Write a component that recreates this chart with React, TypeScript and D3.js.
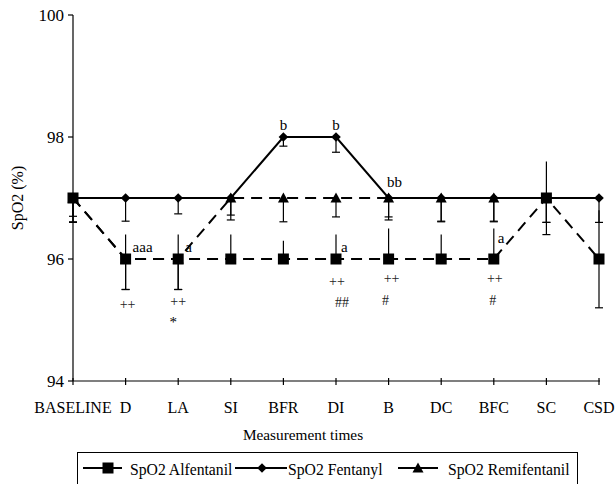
import React from 'react';
import * as d3 from 'd3';

const categories = ['BASELINE', 'D', 'LA', 'SI', 'BFR', 'DI', 'B', 'DC', 'BFC', 'SC', 'CSD'];
const alfentanil: (number | null)[] = [97, 96, 96, 96, 96, 96, 96, 96, 96, 97, 96];
const fentanyl: (number | null)[] = [97, 97, 97, 97, 98, 98, 97, 97, 97, 97, 97];
const remifentanil: (number | null)[] = [97, 96, 96, 97, 97, 97, 97, 97, 97, 97, null];
const alfUpper = [0, 0.4, 0.4, 0.4, 0.3, 0.4, 0.5, 0.4, 0.5, 0.6, 0.8];
const alfLower = [0.4, 0.5, 0.5, 0, 0, 0, 0, 0, 0, 0.6, 0.8];
const fenLower = [0.3, 0.38, 0.26, 0.28, 0.15, 0.25, 0.31, 0.38, 0.38, 0.4, 0.4];
const remLower = [0.39, 0.5, 0.5, 0.36, 0.39, 0.31, 0.36, 0.39, 0.39, 0.4, 0];
const yTicks = [94, 96, 98, 100];

type Ann = { cat: string; text: string; value: number; dx: number; anchor: 'start' | 'middle'; small?: boolean };
const annotations: Ann[] = [
  { cat: 'D', text: 'aaa', value: 96.11, dx: 7, anchor: 'start' },
  { cat: 'LA', text: 'a', value: 96.11, dx: 7, anchor: 'start' },
  { cat: 'DI', text: 'a', value: 96.11, dx: 5, anchor: 'start' },
  { cat: 'BFC', text: 'a', value: 96.26, dx: 4, anchor: 'start' },
  { cat: 'BFR', text: 'b', value: 98.11, dx: 0, anchor: 'middle' },
  { cat: 'DI', text: 'b', value: 98.11, dx: 0, anchor: 'middle' },
  { cat: 'B', text: 'bb', value: 97.18, dx: 6, anchor: 'middle' },
  { cat: 'D', text: '++', value: 95.18, dx: 2, anchor: 'middle', small: true },
  { cat: 'LA', text: '++', value: 95.23, dx: 0, anchor: 'middle', small: true },
  { cat: 'LA', text: '*', value: 94.88, dx: -5, anchor: 'middle' },
  { cat: 'DI', text: '++', value: 95.56, dx: 1, anchor: 'middle', small: true },
  { cat: 'DI', text: '##', value: 95.21, dx: 6, anchor: 'middle', small: true },
  { cat: 'B', text: '++', value: 95.61, dx: 3, anchor: 'middle', small: true },
  { cat: 'B', text: '#', value: 95.25, dx: -3, anchor: 'middle', small: true },
  { cat: 'BFC', text: '++', value: 95.61, dx: 1, anchor: 'middle', small: true },
  { cat: 'BFC', text: '#', value: 95.25, dx: -1, anchor: 'middle', small: true },
];

const FONT = '"Liberation Serif", "Times New Roman", serif';

export default function App() {
  const x = d3.scalePoint<string>().domain(categories).range([73, 599]);
  const y = d3.scaleLinear().domain([94, 100]).range([381, 15]);
  const X = (i: number) => x(categories[i]) as number;

  const lineGen = d3
    .line<number | null>()
    .defined((d) => d !== null)
    .x((_, i) => X(i))
    .y((d) => y(d as number));

  const lines: JSX.Element[] = [];
  const errBar = (key: string, i: number, v: number | null, up: number, down: number) => {
    if (v === null) return;
    const cx = X(i);
    if (up > 0) {
      lines.push(<line key={key + 'u' + i} x1={cx} x2={cx} y1={y(v)} y2={y(v + up)} stroke="#000" strokeWidth={1.2} />);
    }
    if (down > 0) {
      lines.push(<line key={key + 'd' + i} x1={cx} x2={cx} y1={y(v)} y2={y(v - down)} stroke="#000" strokeWidth={1.2} />);
      lines.push(<line key={key + 'c' + i} x1={cx - 4} x2={cx + 4} y1={y(v - down)} y2={y(v - down)} stroke="#000" strokeWidth={1.2} />);
    }
  };
  categories.forEach((_, i) => {
    errBar('f', i, fentanyl[i], 0, fenLower[i]);
    errBar('r', i, remifentanil[i], 0, remLower[i]);
    errBar('a', i, alfentanil[i], alfUpper[i], alfLower[i]);
  });

  const diamond = (cx: number, cy: number, s: number) => `M${cx},${cy - s}L${cx + s},${cy}L${cx},${cy + s}L${cx - s},${cy}Z`;
  const triangle = (cx: number, cy: number, s: number) => `M${cx},${cy - s}L${cx + s},${cy + s * 0.8}L${cx - s},${cy + s * 0.8}Z`;

  return (
    <svg width={616} height={484} style={{ position: 'absolute', left: 0, top: 0, background: '#fff' }} fontFamily={FONT}>
      {/* axes */}
      <line x1={73} x2={73} y1={y(100)} y2={y(94)} stroke="#000" strokeWidth={1.2} />
      <line x1={73} x2={600} y1={y(94)} y2={y(94)} stroke="#000" strokeWidth={1.2} />
      {yTicks.map((t) => (
        <g key={'yt' + t}>
          <line x1={68} x2={73} y1={y(t)} y2={y(t)} stroke="#000" strokeWidth={1.2} />
          <text x={64} y={y(t)} dy="0.35em" textAnchor="end" fontSize={17}>
            {t}
          </text>
        </g>
      ))}
      {categories.map((c) => (
        <g key={'xt' + c}>
          <line x1={x(c)} x2={x(c)} y1={y(94) - 3} y2={y(94) + 4} stroke="#000" strokeWidth={1.2} />
          <text x={x(c)} y={413} textAnchor="middle" fontSize={16}>
            {c}
          </text>
        </g>
      ))}
      <text transform={`translate(23,${y(97)}) rotate(-90)`} textAnchor="middle" fontSize={16}>
        SpO2 (%)
      </text>
      <text x={303} y={440} textAnchor="middle" fontSize={15.3}>
        Measurement times
      </text>

      {/* error bars */}
      {lines}

      {/* lines */}
      <path d={lineGen(alfentanil) || ''} fill="none" stroke="#000" strokeWidth={2} strokeDasharray="11,7" />
      <path d={lineGen(remifentanil) || ''} fill="none" stroke="#000" strokeWidth={2} strokeDasharray="11,7" />
      <path d={lineGen(fentanyl) || ''} fill="none" stroke="#000" strokeWidth={2} />

      {/* markers */}
      {fentanyl.map((v, i) => (v === null ? null : <path key={'fm' + i} d={diamond(X(i), y(v), 4.8)} fill="#000" />))}
      {remifentanil.map((v, i) => (v === null ? null : <path key={'rm' + i} d={triangle(X(i), y(v), 5.5)} fill="#000" />))}
      {alfentanil.map((v, i) =>
        v === null ? null : <rect key={'am' + i} x={X(i) - 5.5} y={y(v) - 5.5} width={11} height={11} fill="#000" />
      )}

      {/* annotations */}
      {annotations.map((a, k) => (
        <text
          key={'an' + k}
          x={(x(a.cat) as number) + a.dx}
          y={y(a.value)}
          textAnchor={a.anchor}
          fontSize={a.small ? 14 : 15}
          fill={a.small ? '#222' : '#000'}
        >
          {a.text}
        </text>
      ))}

      {/* legend */}
      <rect x={77.5} y={452.5} width={500} height={40} fill="#fff" stroke="#000" strokeWidth={1} />
      <g>
        <line x1={83} x2={122} y1={468} y2={468} stroke="#000" strokeWidth={2} />
        <rect x={102.5} y={462.5} width={11} height={11} fill="#000" />
        <text x={130} y={475} fontSize={15.7}>SpO2 Alfentanil</text>
        <line x1={235} x2={287} y1={468} y2={468} stroke="#000" strokeWidth={2} />
        <path d={diamond(262, 468, 4.8)} fill="#000" />
        <text x={288} y={475} fontSize={15.7}>SpO2 Fentanyl</text>
        <line x1={398} x2={438} y1={468} y2={468} stroke="#000" strokeWidth={2} />
        <path d={triangle(418, 468, 5.5)} fill="#000" />
        <text x={448} y={475} fontSize={15.7}>SpO2 Remifentanil</text>
      </g>
    </svg>
  );
}
